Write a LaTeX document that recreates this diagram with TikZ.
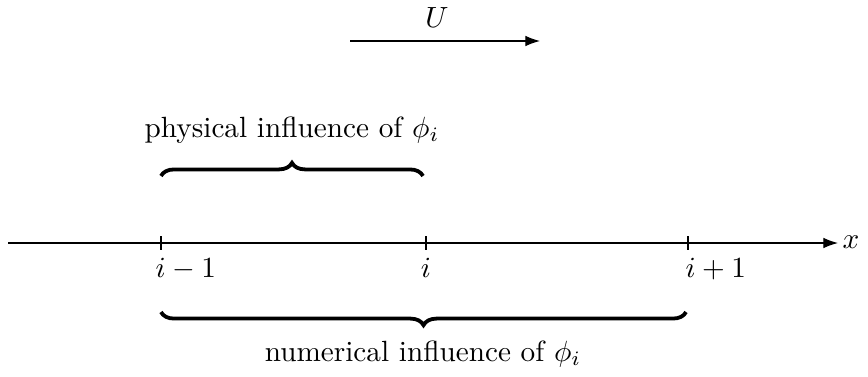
\documentclass[tikz,border=0pt]{standalone}
\usetikzlibrary{decorations.pathreplacing,arrows.meta}
\begin{document}
\begin{tikzpicture}[x=0.342pt,y=-0.342pt,
  axisline/.style={draw,line width=0.4pt,-{Latex[length=5pt,width=3.6pt]}},
  bracestyle/.style={draw,line width=1.3pt,decorate,decoration={brace,amplitude=4.5pt,aspect=#1}},
  lbl/.style={inner sep=0pt}]
\useasboundingbox (0,0) rectangle (868,376);
% flow arrow
\coordinate (ua) at (350,41);
\coordinate (ub) at (540,41);
\draw[axisline] (ua) -- (ub);
\node[lbl] (U) at (437,18) {$U$};
% axis
\coordinate (xa) at (8,243);
\coordinate (xb) at (838,243);
\draw[axisline] (xa) -- (xb);
\node[lbl,anchor=west] (xl) at (842,242) {$x$};
% ticks
\foreach \n/\px in {t1/161,t2/426,t3/688}{
  \coordinate (\n) at (\px,243);
  \draw[line width=0.4pt] ([yshift=-2.3pt]\n) -- ([yshift=2.3pt]\n);
}
\node[lbl,anchor=north west] (l1) at (155,258) {$i-1$};
\node[lbl,anchor=north] (l2) at (426,258) {$i$};
\node[lbl,anchor=north west] (l3) at (685,258) {$i+1$};
% braces
\coordinate (pa) at (161,176);
\coordinate (pb) at (423,176);
\draw[bracestyle=0.5] (pa) -- (pb);
\node[lbl] (pl) at (292,130) {physical influence of $\phi_i$};
\coordinate (na) at (686,312);
\coordinate (nb) at (161,312);
\draw[bracestyle=0.5] (na) -- (nb);
\node[lbl] (nl) at (423,354) {numerical influence of $\phi_i$};
\end{tikzpicture}
\end{document}
